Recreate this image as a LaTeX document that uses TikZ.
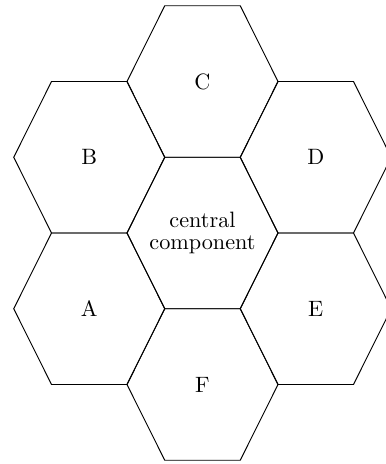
\documentclass[tikz,border=0pt]{standalone}
\begin{document}
\begin{tikzpicture}[x=0.45pt,y=-0.45pt,
  hexline/.style={draw=black, line width=0.42pt, line join=miter},
  letter/.style={font=\fontsize{10}{12}\selectfont, inner sep=0pt},
  centre/.style={align=center, font=\fontsize{10}{9.8}\selectfont, inner sep=0pt},
  hexcell/.pic={\draw[hexline] (-75.5,0) -- (-37.75,-75.75) -- (37.75,-75.75)
      -- (75.5,0) -- (37.75,75.75) -- (-37.75,75.75) -- cycle;}]
\useasboundingbox (0,0) rectangle (386,464);
% labels
\node[centre] (cc) at (202.5,233) {central\\component};
\node[letter] (C) at (202.5,81.5) {C};
\node[letter] (B) at (89.25,157.25) {B};
\node[letter] (D) at (315.75,157.25) {D};
\node[letter] (A) at (89.25,308.75) {A};
\node[letter] (E) at (315.75,308.75) {E};
\node[letter] (F) at (202.5,384.5) {F};
% hexagonal cells
\foreach \n in {cc,A,B,C,D,E,F}{\pic at (\n) {hexcell};}
\end{tikzpicture}
\end{document}
